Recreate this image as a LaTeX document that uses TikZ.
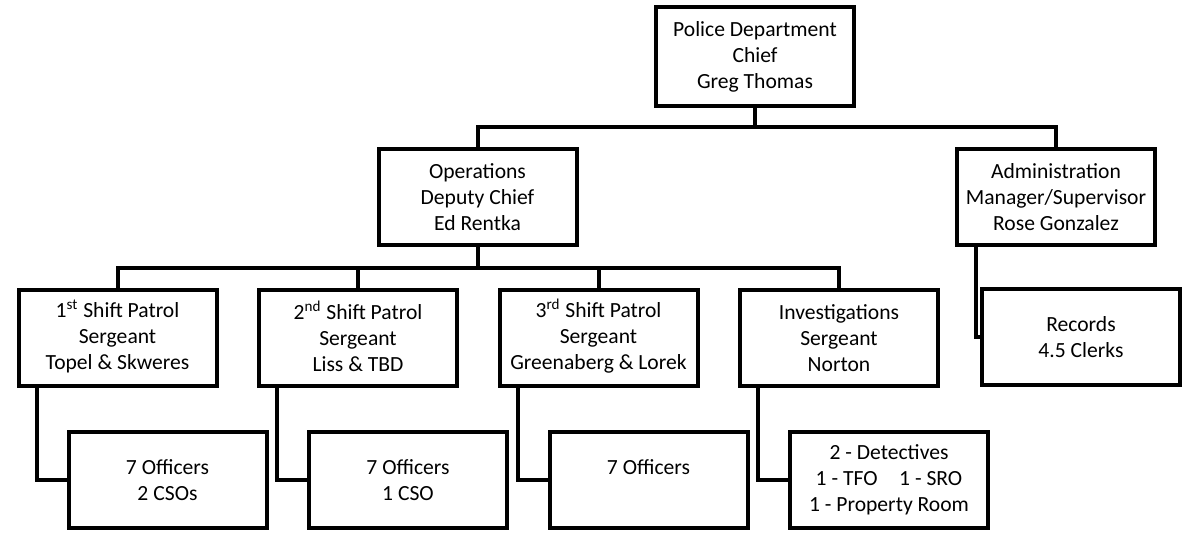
\documentclass[tikz,border=0pt]{standalone}
\usepackage{fontspec}
\setmainfont{Carlito}
\newcommand\supx[1]{\smash{\textsuperscript{#1}}}
\begin{document}
\begin{tikzpicture}[x=0.5pt,y=-0.5pt,
  box/.style={draw, line width=2pt, minimum width=99pt, minimum height=48pt,
    align=center, inner sep=0pt, font=\fontsize{10.8}{13}\selectfont},
  conn/.style={line width=2pt}]
\useasboundingbox (0,0) rectangle (1191,533);
% nodes
\node[box, minimum height=49.5pt] (chief) at (755,56.5) {Police Department\\Chief\\Greg Thomas};
\node[box] (ops) at (477.5,197) {Operations\\Deputy Chief\\Ed Rentka};
\node[box] (admin) at (1056,197.5) {Administration\\Manager/Supervisor\\Rose Gonzalez};
\node[box] (s1) at (117.5,338) {1\supx{st} Shift Patrol\\Sergeant\\Topel \& Skweres};
\node[box] (s2) at (358,338) {2\supx{nd} Shift Patrol\\Sergeant\\Liss \& TBD};
\node[box] (s3) at (598.5,338) {3\supx{rd} Shift Patrol\\Sergeant\\Greenaberg \& Lorek};
\node[box] (inv) at (839,338) {Investigations\\Sergeant\\Norton};
\node[box] (o1) at (167.5,480) {7 Officers\\2 CSOs};
\node[box] (o2) at (408,480) {7 Officers\\1 CSO};
\node[box] (o3) at (648.5,480) {7 Officers\\\mbox{}};
\node[box] (det) at (889,480) {2 - Detectives\\1 - TFO\quad1 - SRO\\1 - Property Room};
\node[box] (rec) at (1081,337) {Records\\4.5 Clerks};
% bus coordinates
\coordinate (tb) at (0,127);
\coordinate (mb) at (0,268);
% connectors
\draw[conn] (chief.south) -- (chief.south |- tb);
\draw[conn] (ops.north) |- (admin.north |- tb) -- (admin.north);
\draw[conn] (ops.south) -- (ops.south |- mb);
\draw[conn] (s1.north) |- (inv.north |- mb) -- (inv.north);
\draw[conn] (s2.north) -- (s2.north |- mb);
\draw[conn] (s3.north) -- (s3.north |- mb);
\draw[conn] ([xshift=10pt]s1.south west) |- (o1.west);
\draw[conn] ([xshift=10pt]s2.south west) |- (o2.west);
\draw[conn] ([xshift=10pt]s3.south west) |- (o3.west);
\draw[conn] ([xshift=10pt]inv.south west) |- (det.west);
\draw[conn] ([xshift=10.5pt]admin.south west) |- (rec.west);
\end{tikzpicture}
\end{document}
